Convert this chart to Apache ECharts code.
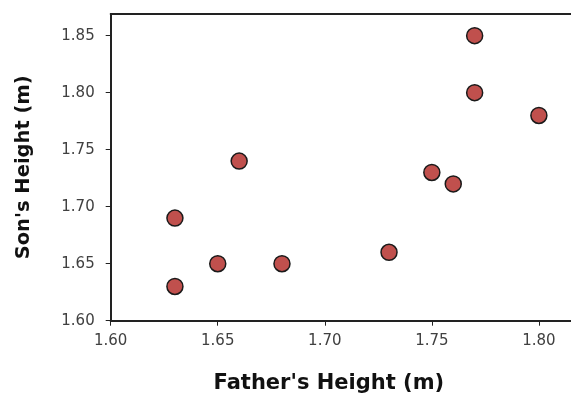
<!DOCTYPE html>
<html><head><meta charset="utf-8">
<script src="https://cdn.jsdelivr.net/npm/echarts@6/dist/echarts.min.js"></script>
<style>html,body{margin:0;padding:0;background:#fff}#c{width:571px;height:394px}</style>
</head><body><div id="c"></div>
<script>
const fatherHeights = [1.63, 1.63, 1.65, 1.66, 1.68, 1.73, 1.75, 1.76, 1.77, 1.77, 1.80];
const sonHeights    = [1.69, 1.63, 1.65, 1.74, 1.65, 1.66, 1.73, 1.72, 1.85, 1.80, 1.78];
const xTitle = "Father's Height (m)";
const yTitle = "Son's Height (m)";

const points = fatherHeights.map((f, i) => [f, sonHeights[i]]);
const chart = echarts.init(document.getElementById('c'), null, {renderer: 'canvas'});
const lbl = {color: '#404040', fontFamily: 'DejaVu Sans', fontSize: 15};
const ttlX = {color: '#111', fontFamily: 'DejaVu Sans', fontSize: 21, fontWeight: 'bold', padding: [0, 24, 0, 0]};
const ttlY = {color: '#111', fontFamily: 'DejaVu Sans', fontSize: 19.5, fontWeight: 'bold'};
chart.setOption({
  animation: false,
  grid: {left: 110.7, right: 0, top: 14, bottom: 73.3, containLabel: false, outerBoundsMode: 'none'},
  xAxis: [{
    type: 'value', min: 1.60, max: 1.815, interval: 0.05,
    name: xTitle, nameLocation: 'middle', nameGap: 52, nameTextStyle: ttlX,
    axisLine: {lineStyle: {color: '#222', width: 2}},
    axisTick: {show: true, length: 5, lineStyle: {color: '#222', width: 1}},
    axisLabel: Object.assign({margin: 13, formatter: v => v.toFixed(2), showMaxLabel: false}, lbl),
    splitLine: {show: false}
  }, {
    type: 'value', position: 'top', min: 1.60, max: 1.815,
    axisLine: {show: true, onZero: false, lineStyle: {color: '#222', width: 2}},
    axisTick: {show: false}, axisLabel: {show: false}, splitLine: {show: false}
  }],
  yAxis: {
    type: 'value', min: 1.60, max: 1.869, interval: 0.05,
    name: yTitle, nameLocation: 'middle', nameGap: 77, nameRotate: 90, nameTextStyle: ttlY,
    axisLine: {show: true, lineStyle: {color: '#222', width: 2}},
    axisTick: {show: true, length: 5, lineStyle: {color: '#222', width: 1}},
    axisLabel: Object.assign({margin: 16, formatter: v => v.toFixed(2), showMaxLabel: false}, lbl),
    splitLine: {show: false}
  },
  series: [{
    type: 'scatter', data: points, symbolSize: 16,
    itemStyle: {color: '#c0504d', borderColor: '#1a1a1a', borderWidth: 1.5, opacity: 1}
  }]
});
</script></body></html>
